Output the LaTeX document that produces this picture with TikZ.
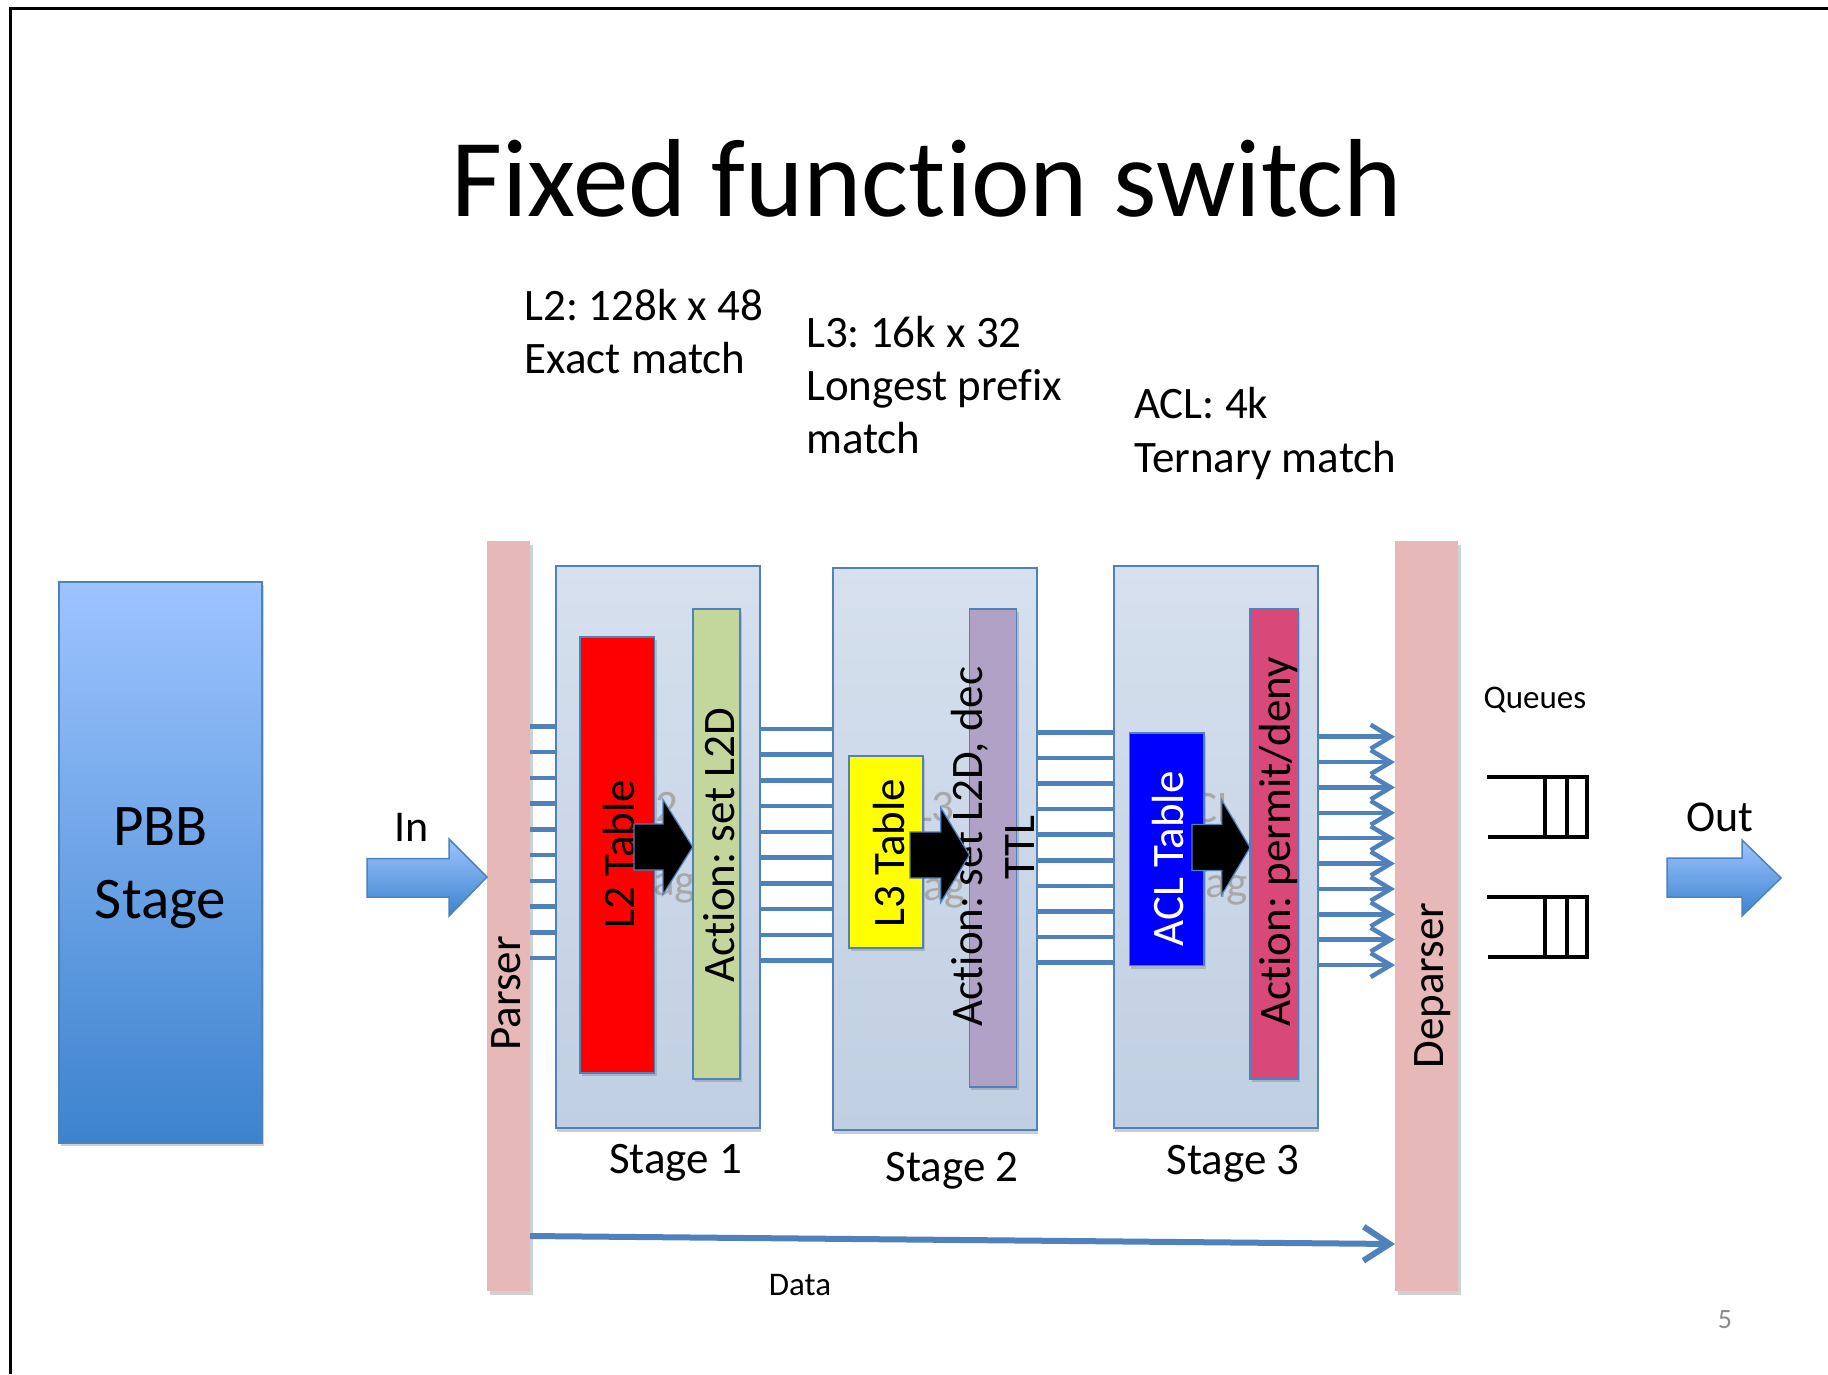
\documentclass[tikz,border=0pt]{standalone}
\usepackage{fontspec}
\setmainfont{Carlito}[Ligatures=NoCommon]
\usetikzlibrary{arrows.meta,shadows,calc}
\frenchspacing

\definecolor{wireblue}{RGB}{79,129,189}
\definecolor{edgeblue}{RGB}{79,129,189}
\definecolor{barpink}{RGB}{230,184,183}
\definecolor{stagetop}{RGB}{214,224,238}
\definecolor{stagebot}{RGB}{192,207,226}
\definecolor{pbbtop}{RGB}{157,196,255}
\definecolor{pbbmid}{RGB}{128,178,242}
\definecolor{pbbbot}{RGB}{60,131,206}
\definecolor{l2red}{RGB}{255,0,0}
\definecolor{actgreen}{RGB}{195,214,155}
\definecolor{l3yellow}{RGB}{255,255,0}
\definecolor{actpurple}{RGB}{178,161,199}
\definecolor{aclblue}{RGB}{0,0,255}
\definecolor{actpink}{RGB}{216,72,121}
\definecolor{ghost}{RGB}{168,168,168}
\definecolor{pagegray}{RGB}{140,140,140}

\newcommand\fsTitle{\fontsize{111}{133}\selectfont}
\newcommand\fsBig{\fontsize{59}{73}\selectfont}
\newcommand\fsMid{\fontsize{45}{54}\selectfont}
\newcommand\fsIO{\fontsize{44}{53}\selectfont}
\newcommand\fsSmall{\fontsize{33}{40}\selectfont}
\newcommand\fsPage{\fontsize{28}{34}\selectfont}

% rectangle node given by its corners (x0,y0) and (x1,y1)
\newcommand\boxnode[6]{%
  \node[#2, anchor=north west, inner sep=0pt, outer sep=0pt,
        minimum width={(#5-#3)*1pt}, minimum height={(#6-#4)*1pt}] (#1) at (#3,#4) {};}

% black block arrow: body start, head start, tip, centre line
\newcommand\blockarrow[4]{%
  \path[blockarr] (#1,#4-23) -- (#2,#4-23) -- (#2,#4-47.5) -- (#3,#4)
     -- (#2,#4+47.5) -- (#2,#4+23) -- (#1,#4+23) -- cycle;}

\tikzset{
  bar/.style={fill=barpink, draw=none,
    drop shadow={fill=black, opacity=0.18, shadow xshift=3pt, shadow yshift=-4pt}},
  stagebox/.style={draw=edgeblue, line width=2pt, top color=stagetop, bottom color=stagebot,
    drop shadow={fill=black, opacity=0.2, shadow xshift=1pt, shadow yshift=-4pt}},
  tablebox/.style={draw=edgeblue, line width=1.6pt,
    drop shadow={fill=black, opacity=0.15, shadow xshift=2pt, shadow yshift=-3pt}},
  pbbbox/.style={draw=edgeblue, line width=1.2pt, top color=pbbtop, middle color=pbbmid,
    bottom color=pbbbot,
    drop shadow={fill=black, opacity=0.18, shadow xshift=2pt, shadow yshift=-3pt}},
  rotlabel/.style={rotate=90, anchor=base, inner sep=0pt, font=\fsMid},
  flat/.style={anchor=base, inner sep=0pt},
  flatleft/.style={anchor=base west, inner sep=0pt, font=\fsMid},
  ghostlabel/.style={anchor=base east, inner sep=0pt, font=\fsMid, text=ghost},
  wire/.style={draw=wireblue, line width=4.5pt},
  blockarr/.style={fill=black, draw=edgeblue, line width=1.2pt, line join=miter},
  fatarrow/.style={draw=edgeblue, line width=1.5pt, top color=pbbtop, bottom color=pbbbot},
  qline/.style={draw=black, line width=3.5pt, line join=miter}
}

\begin{document}
\begin{tikzpicture}[x=1pt, y=-1pt]
\useasboundingbox[fill=white] (0,0) rectangle (1828,1374);

% slide frame
\draw[line width=2.5pt] (10.5,1374) -- (10.5,8.5) -- (1828,8.5);

% title
\node[flat, font=\fsTitle] (title) at (927,216) {Fixed function switch};

% table sizes
\node[flatleft] (l2a) at (524.5,320) {L2: 128k x 48};
\node[flatleft] (l2b) at (524.5,373) {Exact match};
\node[flatleft] (l3a) at (806,347) {L3: 16k x 32};
\node[flatleft] (l3b) at (806,400) {Longest prefix};
\node[flatleft] (l3c) at (806,453) {match};
\node[flatleft] (acla) at (1134,418) {ACL: 4k};
\node[flatleft] (aclb) at (1134,472) {Ternary match};

% PBB stage
\boxnode{pbb}{pbbbox}{59}{582}{262}{1143}
\node[flat, font=\fsBig] (pbbt1) at (160.5,845) {PBB};
\node[flat, font=\fsBig] (pbbt2) at (160.5,918) {Stage};

% parser and deparser bars
\boxnode{parser}{bar}{487}{541}{530}{1291}
\boxnode{deparser}{bar}{1395}{541}{1458}{1291}
\node[rotlabel] (parsert) at (520,993.5) {Parser};
\node[rotlabel] (deparsert) at (1443,985.6) {Deparser};

% stages
\boxnode{s1}{stagebox}{556}{566}{760}{1128}
\boxnode{s2}{stagebox}{833}{568}{1037}{1130}
\boxnode{s3}{stagebox}{1114}{566}{1318}{1128}

% faint labels lying under the tables
\node[ghostlabel] (g1a) at (679,821) {L2};
\node[ghostlabel] (g1b) at (696,895) {Tag};
\node[ghostlabel] (g2a) at (955,821) {L3};
\node[ghostlabel] (g2b) at (966,900) {Tag};
\node[ghostlabel] (g3a) at (1237,822) {ACL};
\node[ghostlabel] (g3b) at (1248,897) {Tag};

% tables and actions
\boxnode{l2t}{tablebox, fill=l2red}{580}{637}{654.5}{1073}
\boxnode{act1}{tablebox, fill=actgreen}{692.7}{609}{740.2}{1079}
\boxnode{l3t}{tablebox, fill=l3yellow}{849}{756}{922.7}{948}
\boxnode{act2}{tablebox, fill=actpurple}{969.4}{609}{1016.5}{1087}
\boxnode{aclt}{tablebox, fill=aclblue}{1129.3}{733}{1204}{965.5}
\boxnode{act3}{tablebox, fill=actpink}{1250}{609}{1297.7}{1079}

\node[rotlabel] (l2tt) at (634.6,854) {L2 Table};
\node[rotlabel] (act1t) at (734,845) {Action: set L2D};
\node[rotlabel] (l3tt) at (904.4,853) {L3 Table};
\node[rotlabel] (act2t) at (982,846.5) {Action: set L2D, dec};
\node[rotlabel] (act2u) at (1034.5,847.6) {TTL};
\node[rotlabel, text=white] (acltt) at (1183.3,859) {ACL Table};
\node[rotlabel] (act3t) at (1290,841.7) {Action: permit/deny};

% table to action arrows
\blockarrow{634}{663}{692.7}{847}
\blockarrow{910}{940.7}{969.4}{855}
\blockarrow{1192}{1221.7}{1250}{847.5}

% header fields between the blocks
\foreach \i in {0,...,9}{
  \pgfmathsetmacro\ya{726.5+25.72*\i}
  \pgfmathsetmacro\yb{729+25.72*\i}
  \pgfmathsetmacro\yc{732.5+25.55*\i}
  \pgfmathsetmacro\yd{736.7+25.37*\i}
  \draw[wire] (parser.east |- 0,\ya) -- (s1.west |- 0,\ya);
  \draw[wire] (s1.east |- 0,\yb) -- (s2.west |- 0,\yb);
  \draw[wire] (s2.east |- 0,\yc) -- (s3.west |- 0,\yc);
  \draw[wire, -{Straight Barb[length=20pt, width=24pt]}] (s3.east |- 0,\yd) -- (deparser.west |- 0,\yd);
}

% data path
\draw[draw=wireblue, line width=6pt, -{Straight Barb[length=26pt, width=34pt]}]
  (parser.east |- 0,1236) -- (deparser.west |- 0,1244);
\node[flat, font=\fsSmall] (datat) at (800,1295) {Data};

% stage names
\node[flat, font=\fsMid] (s1t) at (675.7,1173) {Stage 1};
\node[flat, font=\fsMid] (s2t) at (952,1181) {Stage 2};
\node[flat, font=\fsMid] (s3t) at (1233,1174) {Stage 3};

% input arrow
\coordinate (intip) at (parser.west |- 0,877);
\path[fatarrow] (367,858.5) -- (449,858.5) -- (449,839) -- (intip) -- (449,916)
  -- (449,897) -- (367,897) -- cycle;
\node[flat, font=\fsIO] (int) at (412,841) {In};

% queues
\node[flat, font=\fsSmall] (qt) at (1535,708) {Queues};
\draw[qline] (1487,777) -- (1587,777) -- (1587,837) -- (1488,837);
\draw[qline] (1545,777) -- (1545,837);
\draw[qline] (1567,777) -- (1567,837);
\draw[qline] (1487,897) -- (1587,897) -- (1587,957) -- (1488,957);
\draw[qline] (1545,897) -- (1545,957);
\draw[qline] (1567,897) -- (1567,957);

% output arrow
\path[fatarrow] (1667,858) -- (1742,858) -- (1742,840) -- (1781,878) -- (1742,916)
  -- (1742,897) -- (1667,897) -- cycle;
\node[flat, font=\fsIO] (outt) at (1720,831.7) {Out};

% page number
\node[flat, font=\fsPage, text=pagegray] (page) at (1725,1328) {5};
\end{tikzpicture}
\end{document}
